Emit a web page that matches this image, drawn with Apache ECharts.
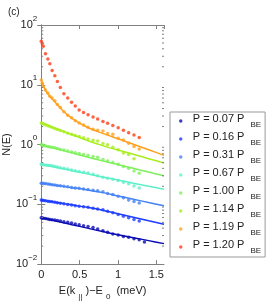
<!DOCTYPE html>
<html><head><meta charset="utf-8">
<script src="https://cdn.jsdelivr.net/npm/echarts@6/dist/echarts.min.js"></script>
<style>html,body{margin:0;padding:0;background:#fff}#c{width:266px;height:306px}</style>
</head><body><div id="c"></div>
<script>
// shared x positions of measured points (meV)
const xPts = [0, 0.013, 0.026, 0.055, 0.086, 0.112, 0.142, 0.177, 0.21, 0.249, 0.295, 0.345, 0.395, 0.443, 0.494, 0.551, 0.61, 0.675, 0.735, 0.804, 0.865, 0.933, 1.003, 1.071, 1.139, 1.209, 1.277, 1.345];
// measured N(E)
const p007 = [0.0597, 0.059, 0.0585, 0.058, 0.057, 0.056, 0.0553, 0.0545, 0.0535, 0.0525, 0.0512, 0.05, 0.0485, 0.047, 0.0455, 0.044, 0.0425, 0.041, 0.0385, 0.0361, 0.034, 0.0319, 0.0308, 0.0289, 0.0282, 0.0265, 0.0255, 0.0234];
const p016 = [0.118, 0.117, 0.116, 0.115, 0.113, 0.112, 0.11, 0.108, 0.106, 0.104, 0.102, 0.099, 0.097, 0.095, 0.093, 0.091, 0.089, 0.086, 0.0835, 0.0814, 0.0764, 0.072, 0.0675, 0.0633, 0.0597, 0.056, 0.0525];
const p031 = [0.226, 0.225, 0.224, 0.222, 0.219, 0.216, 0.213, 0.21, 0.207, 0.204, 0.2, 0.196, 0.192, 0.188, 0.185, 0.181, 0.177, 0.172, 0.168, 0.162, 0.152, 0.146, 0.137, 0.129, 0.118, 0.111, 0.105];
const p067 = [0.468, 0.465, 0.46, 0.455, 0.45, 0.445, 0.44, 0.43, 0.42, 0.41, 0.40, 0.39, 0.375, 0.365, 0.355, 0.345, 0.335, 0.32, 0.30, 0.285, 0.273, 0.262, 0.25, 0.235, 0.221, 0.203, 0.188];
const p100 = [0.99, 0.98, 0.97, 0.95, 0.93, 0.91, 0.9, 0.88, 0.86, 0.83, 0.81, 0.78, 0.75, 0.73, 0.71, 0.68, 0.66, 0.63, 0.615, 0.56, 0.53, 0.50, 0.47, 0.43, 0.40, 0.36, 0.33];
const p114 = [2.3, 2.26, 2.22, 2.14, 2.06, 2.0, 1.93, 1.85, 1.78, 1.71, 1.63, 1.55, 1.48, 1.42, 1.36, 1.3, 1.24, 1.18, 1.15, 1.04, 0.99, 0.90, 0.82, 0.72, 0.68, 0.58];
const p119 = [12.0, 10.6, 9.35, 8.2, 7.3, 6.4, 6.0, 5.4, 4.7, 4.15, 3.55, 3.1, 2.8, 2.5, 2.3, 2.12, 1.94, 1.80, 1.73, 1.69, 1.53, 1.49, 1.27, 1.19, 1.05, 0.93, 0.84];
const p120 = [53.5, 49, 44, 33, 27, 22.4, 17.4, 14.1, 11.3, 9.0, 7.1, 6.0, 5.1, 4.4, 3.8, 3.44, 3.16, 2.89, 2.68, 2.43, 2.28, 2.09, 1.91, 1.73, 1.58, 1.44, 1.31];
// theory curves
const lineX = [0, 0.05, 0.1, 0.2, 0.3, 0.4, 0.6, 0.8, 1.0, 1.2, 1.4, 1.6];
const f007 = [0.0597, 0.0577, 0.0558, 0.0522, 0.0489, 0.0457, 0.040, 0.035, 0.031, 0.0277, 0.0247, 0.022];
const f016 = [0.118, 0.1156, 0.1128, 0.1076, 0.1026, 0.098, 0.089, 0.0796, 0.0695, 0.0608, 0.0531, 0.0464];
const f031 = [0.226, 0.2216, 0.217, 0.207, 0.198, 0.19, 0.174, 0.157, 0.138, 0.122, 0.107, 0.0946];
const f067 = [0.468, 0.454, 0.44, 0.414, 0.39, 0.366, 0.324, 0.286, 0.255, 0.226, 0.201, 0.179];
const f100 = [0.99, 0.95, 0.916, 0.847, 0.784, 0.725, 0.62, 0.533, 0.462, 0.40, 0.347, 0.30];
const f114 = [2.3, 2.18, 2.06, 1.84, 1.64, 1.47, 1.17, 0.96, 0.81, 0.69, 0.58, 0.49];
const f119 = [12.0, 8.4, 6.7, 4.8, 3.5, 2.75, 1.95, 1.54, 1.25, 1.01, 0.82, 0.66];

const names = ['P = 0.07', 'P = 0.16', 'P = 0.31', 'P = 0.67', 'P = 1.00', 'P = 1.14', 'P = 1.19', 'P = 1.20'];
const colors = ['#0a0ab4', '#1e3cff', '#4482f5', '#5cf0c8', '#7cf05a', '#a8ee1e', '#ffa01e', '#ff3c14'];
const pts = [p007, p016, p031, p067, p100, p114, p119, p120];
const fits = [f007, f016, f031, f067, f100, f114, f119, null];

const minorVals = [];
for (let e = -2; e < 2; e++) for (let m = 2; m <= 9; m++) minorVals.push(m * Math.pow(10, e));

const axisGray = '#808080';
const font = 'Liberation Sans, Arial, sans-serif';
const series = [];
fits.forEach((f, i) => {
  if (!f) return;
  series.push({type: 'line', data: lineX.map((x, j) => [x, f[j]]), smooth: 0.3, showSymbol: false,
    lineStyle: {color: colors[i], width: 1.5}, silent: true, z: 2});
});
pts.forEach((p, i) => {
  series.push({type: 'scatter', name: names[i], data: p.map((v, j) => [xPts[j], v]),
    symbol: 'circle', symbolSize: 3.5, itemStyle: {color: colors[i]}, z: 3});
});
series.push({type: 'custom', silent: true, data: minorVals.map(v => [0, v]), z: 4,
  renderItem: function (params, api) {
    const v = api.value(1);
    const pl = api.coord([0, v]);
    const pr = api.coord([1.6, v]);
    return {type: 'group', children: [
      {type: 'line', shape: {x1: pl[0], y1: pl[1], x2: pl[0] + 2, y2: pl[1]}, style: {stroke: axisGray, lineWidth: 1}},
      {type: 'line', shape: {x1: pr[0] - 2, y1: pr[1], x2: pr[0], y2: pr[1]}, style: {stroke: axisGray, lineWidth: 1}}
    ]};
  }});

const yLab = function (v) {
  const e = Math.round(Math.log10(v));
  return '{b|10}{s|' + (e < 0 ? '\u2212' + (-e) : e) + '}';
};
const yRich = {b: {fontSize: 11, color: '#222', fontFamily: font, padding: [5, 0, 5, 0], verticalAlign: 'bottom'},
               s: {fontSize: 8, color: '#222', fontFamily: font, verticalAlign: 'top'}};

const chart = echarts.init(document.getElementById('c'), null, {renderer: 'canvas'});
chart.setOption({
  animation: false,
  backgroundColor: '#fff',
  title: {text: '(c)', left: 3, top: 2, textStyle: {fontSize: 10, fontWeight: 'normal', color: '#222', fontFamily: font}},
  grid: {left: 40, right: 102, top: 25, bottom: 35},
  xAxis: [
    {type: 'value', min: 0, max: 1.6, interval: 0.5, position: 'bottom',
     axisLine: {lineStyle: {color: axisGray}}, axisTick: {inside: true, length: 4, lineStyle: {color: axisGray}},
     splitLine: {show: false},
     axisLabel: {fontSize: 11, color: '#222', fontFamily: font, margin: 5, showMaxLabel: false},
     name: '{n|E(k}{s|||}{n|)\u2212E}{s|0}{n| (meV)}', nameLocation: 'middle', nameGap: 15,
     nameTextStyle: {rich: {n: {fontSize: 11, color: '#222', fontFamily: font, verticalAlign: 'top'},
                            s: {fontSize: 8, color: '#222', fontFamily: font, padding: [8, 3, 0, 3], verticalAlign: 'bottom'}}}},
    {type: 'value', min: 0, max: 1.6, interval: 0.5, position: 'top',
     axisLine: {lineStyle: {color: axisGray}}, axisTick: {inside: true, length: 4, lineStyle: {color: axisGray}},
     axisLabel: {show: false}, splitLine: {show: false}}
  ],
  yAxis: [
    {type: 'log', logBase: 10, min: 0.01, max: 100, position: 'left',
     axisLine: {lineStyle: {color: axisGray}}, axisTick: {inside: true, length: 4, lineStyle: {color: axisGray}},
     splitLine: {show: false},
     axisLabel: {formatter: yLab, rich: yRich, margin: 4},
     name: 'N(E)', nameLocation: 'middle', nameGap: 29, nameRotate: 90,
     nameTextStyle: {fontSize: 11, color: '#222', fontFamily: font}},
    {type: 'log', logBase: 10, min: 0.01, max: 100, position: 'right',
     axisLine: {lineStyle: {color: axisGray}}, axisTick: {inside: true, length: 4, lineStyle: {color: axisGray}},
     axisLabel: {show: false}, splitLine: {show: false}}
  ],
  legend: {
    orient: 'vertical', left: 170, top: 112, padding: [1, 4, 2, 9], itemGap: 2,
    itemWidth: 14, itemHeight: 3.5, borderColor: '#999', borderWidth: 1, borderRadius: 0,
    data: names, icon: 'circle',
    formatter: function (n) { return '{a|' + n + ' P}{b|BE}'; },
    textStyle: {rich: {a: {fontSize: 11, color: '#222', fontFamily: font, verticalAlign: 'top'},
                       b: {fontSize: 8, color: '#222', fontFamily: font, padding: [8, 0, 0, 6], verticalAlign: 'bottom'}}}
  },
  series: series
});
</script></body></html>
